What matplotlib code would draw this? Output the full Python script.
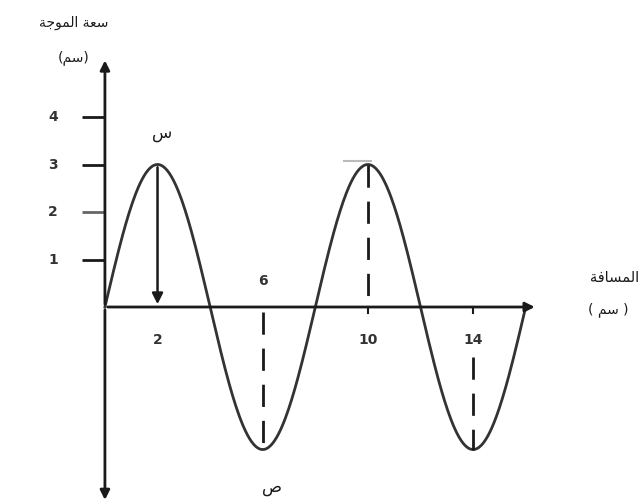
import numpy as np
import matplotlib.pyplot as plt

# wave parameters (cm)
amplitude = 3
wavelength = 8
distance_end = 16

y_ticks = [1, 2, 3, 4]
x_labels = [2, 6, 10, 14]
x_label_above = [False, True, False, False]

# Arabic text written in shaped presentation forms, visual order
y_title = '\uFE94\uFE9F\uFEEE\uFEE4\uFEDF\uFE8D \uFE94\uFECC\uFEB3'   # سعة الموجة
y_unit = '(\uFEE2\uFEB3)'                                             # (سم)
x_title = '\uFE94\uFED3\uFE8E\uFEB4\uFEE4\uFEDF\uFE8D'                # المسافة
x_unit = '( \uFEE2\uFEB3 )'                                           # ( سم )
crest_name = '\uFEB1'    # س
trough_name = '\uFEB9'   # ص

plt.rcParams['font.family'] = ['DejaVu Sans']

fig = plt.figure(figsize=(6.38, 5.04), dpi=100)
ax = fig.add_axes([0, 0, 1, 1])
ax.set_xlim(-3.99, 20.27)
ax.set_ylim(-4.147, 6.463)
ax.axis('off')

ink = '#1a1a1a'

# axes with arrow heads
ax.annotate('', xy=(16.45, 0), xytext=(0, 0),
            arrowprops=dict(arrowstyle='-|>', color=ink, lw=2, mutation_scale=14))
ax.annotate('', xy=(0, 5.25), xytext=(0, 0),
            arrowprops=dict(arrowstyle='-|>', color=ink, lw=2, mutation_scale=14))
ax.annotate('', xy=(0, -4.12), xytext=(0, 0),
            arrowprops=dict(arrowstyle='-|>', color=ink, lw=2, mutation_scale=14))

# y ticks on the left of the axis
for t in y_ticks:
    ax.plot([-0.87, 0], [t, t], color='#666666' if t == 2 else ink, lw=2,
            solid_capstyle='butt')
    ax.text(-1.97, t, str(t), ha='center', va='center', fontsize=10,
            color='#333333', fontweight='bold')

# the wave
x = np.linspace(0, distance_end, 400)
y = amplitude * np.sin(2 * np.pi * x / wavelength)
ax.plot(x, y, color='#333333', lw=2)

# x labels
for v, above in zip(x_labels, x_label_above):
    ypos = 0.55 if above else -0.7
    ax.text(v, ypos, str(v), ha='center', va='center', fontsize=10,
            color='#333333', fontweight='bold')

# small tick marks under the axis
for v in [10, 14]:
    ax.plot([v, v], [0, -0.13], color=ink, lw=1.5)

# dashed guides
dash = dict(color=ink, lw=2, linestyle=(0, (8, 5)))
ax.plot([6, 6], [-0.1, -amplitude], **dash)
ax.plot([10, 10], [amplitude, 0], **dash)
ax.plot([14, 14], [-1.05, -amplitude], **dash)

# faint mark above the second crest
ax.plot([9.1, 10.1], [amplitude + 0.07, amplitude + 0.07], color='#bbbbbb', lw=1.5)

# amplitude arrow from crest down to the axis
ax.annotate('', xy=(2, 0), xytext=(2, amplitude),
            arrowprops=dict(arrowstyle='-|>', color=ink, lw=1.8, mutation_scale=16))

# point names
ax.text(2.17, 3.66, crest_name, ha='center', va='center', fontsize=12, color=ink)
ax.text(6.35, -3.79, trough_name, ha='center', va='center', fontsize=12, color=ink)

# axis titles
ax.text(-1.18, 5.98, y_title, ha='center', va='center', fontsize=10, color=ink)
ax.text(-1.18, 5.24, y_unit, ha='center', va='center', fontsize=10, color=ink)
ax.text(20.3, 0.63, x_title, ha='right', va='center', fontsize=10.5, color=ink)
ax.text(19.9, -0.06, x_unit, ha='right', va='center', fontsize=10, color=ink)

fig.savefig('out.png', dpi=100)
